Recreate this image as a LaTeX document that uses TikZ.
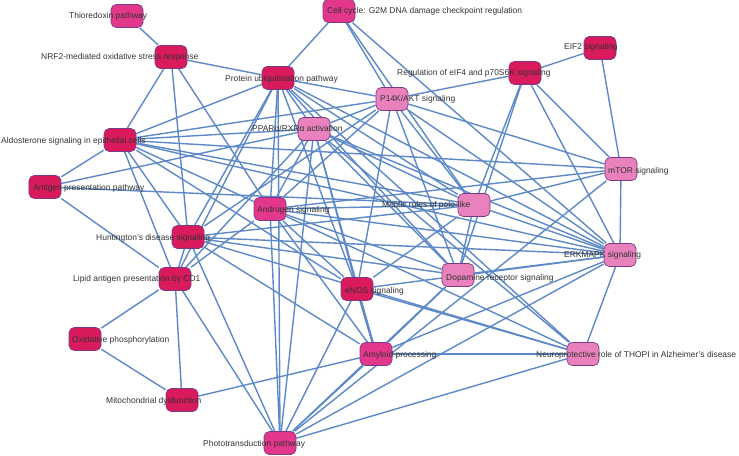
\documentclass[tikz,border=0pt]{standalone}
\usepackage{fontspec}
\setmainfont{Liberation Sans}
\usepackage{tikz}
\usetikzlibrary{shapes}
\pgfdeclarelayer{bg}
\pgfsetlayers{bg,main}
\definecolor{deeprose}{HTML}{D91A5C}
\definecolor{hotrose}{HTML}{E2378A}
\definecolor{palerose}{HTML}{E982BC}
\definecolor{boxline}{HTML}{7A3A8A}
\definecolor{linkblue}{HTML}{5D89C8}
\definecolor{txtgray}{HTML}{333333}
\tikzset{
		path box/.style={draw=boxline, line width=0.6pt, rounded corners=4.5pt, minimum width=0.96cm, minimum height=0.69cm, inner sep=0pt},
		deep/.style={path box, fill=deeprose},
		mid/.style={path box, fill=hotrose},
		pale/.style={path box, fill=palerose},
		tag/.style={anchor=west, inner sep=0pt, text=txtgray, font=\fontsize{7.2}{8}\selectfont, text height=5.2pt, text depth=1.4pt},
		link/.style={draw=linkblue, line width=1.2pt}
	}
\begin{document}
\begin{tikzpicture}[x=0.03cm, y=-0.03cm]
				\useasboundingbox (0,0) rectangle (739,456);
				% pathway boxes
				\node[mid]  (thio)  at (127,16)  {};
				\node[deep] (nrf)   at (171,57)  {};
				\node[deep] (aldo)  at (120,140) {};
				\node[mid]  (cell)  at (339,11)  {};
				\node[deep] (prot)  at (278,78)  {};
				\node[pale] (pik)   at (392,99)  {};
				\node[pale] (ppar)  at (314,129) {};
				\node[deep] (eif4)  at (525,73)  {};
				\node[deep] (eif2)  at (600,48)  {};
				\node[pale] (mtor)  at (621,169) {};
				\node[pale] (erk)   at (620,255) {};
				\node[deep] (anti)  at (45,187)  {};
				\node[deep] (hunt)  at (188,237) {};
				\node[deep] (lipid) at (175,279) {};
				\node[mid]  (andr)  at (270,209) {};
				\node[pale] (polo)  at (474,205) {};
				\node[pale] (dopa)  at (458,275) {};
				\node[deep] (enos)  at (357,289) {};
				\node[mid]  (amyl)  at (376,354) {};
				\node[mid]  (photo) at (280,443) {};
				\node[pale] (neuro) at (583,354) {};
				\node[deep] (oxph)  at (85,339)  {};
				\node[deep] (mito)  at (182,400) {};
				% links
				\begin{pgfonlayer}{bg}
				\path[link] (thio) edge (nrf);
				\path[link] (nrf) edge (aldo) edge (hunt) edge (andr) edge (prot);
				\path[link] (cell) edge (prot) edge (pik) edge (polo) edge (erk);
				\path[link] (prot) edge (pik) edge (ppar) edge (andr) edge (hunt) edge (lipid) edge (enos) edge (photo) edge (polo) edge (dopa) edge (erk) edge (neuro) edge (aldo);
				\path[link] (pik) edge (eif4) edge (mtor) edge (ppar) edge (hunt) edge (enos) edge (dopa) edge (polo) edge (erk) edge (andr) edge (aldo);
				\path[link] (ppar) edge (aldo) edge (anti) edge (andr) edge (lipid) edge (polo) edge (erk) edge (enos) edge (amyl) edge (photo) edge (neuro) edge (dopa);
				\path[link] (aldo) edge (anti) edge (hunt) edge (lipid) edge (andr) edge (polo) edge (mtor) edge (erk) edge (enos);
				\path[link] (anti) edge (polo) edge (lipid);
				\path[link] (hunt) edge (lipid) edge (amyl) edge (polo) edge (erk) edge (dopa) edge (neuro) edge (photo);
				\path[link] (lipid) edge (oxph) edge (mito) edge (andr) edge (photo);
				\path[link] (andr) edge (polo) edge (erk) edge (dopa) edge (neuro) edge (enos) edge (amyl) edge (photo) edge (mtor);
				\path[link] (polo) edge (eif4) edge (mtor) edge (erk) edge (dopa) edge (enos);
				\path[link] (eif4) edge (eif2) edge (mtor) edge (erk) edge (dopa);
				\path[link] (eif2) edge (mtor);
				\path[link] (mtor) edge (erk) edge (photo);
				\path[link] (dopa) edge (erk) edge (amyl);
				\path[link] (enos) edge (erk) edge (neuro) edge (photo);
				\path[link, line width=2pt] (enos) edge (amyl);
				\path[link] (amyl) edge (erk) edge (neuro) edge (photo) edge (mito);
				\path[link] (photo) edge (dopa) edge (erk) edge (neuro);
				\path[link] (oxph) edge (mito);
				\path[link] (erk) edge (neuro);
				\end{pgfonlayer}
				% labels
				\node[tag] (thio-t)  at (69,16)   {Thioredoxin pathway};
				\node[tag] (nrf-t)   at (41,57)   {NRF2-mediated oxidative stress response};
				\node[tag] (aldo-t)  at (1,141)   {Aldosterone signaling in epithelial cells};
				\node[tag] (cell-t)  at (327,11)  {Cell cycle: G2M DNA damage checkpoint regulation};
				\node[tag] (prot-t)  at (225,79)  {Protein ubiquitination pathway};
				\node[tag] (pik-t)   at (380,99)  {P14K/AKT signaling};
				\node[tag] (ppar-t)  at (252,129) {PPARα/RXRα activation};
				\node[tag] (eif4-t)  at (397,73)  {Regulation of eIF4 and p70S6K signaling};
				\node[tag] (eif2-t)  at (564,47)  {EIF2 signaling};
				\node[tag] (mtor-t)  at (608,171) {mTOR signaling};
				\node[tag] (erk-t)   at (564,255) {ERKMAPK signaling};
				\node[tag] (anti-t)  at (33,188)  {Antigen presentation pathway};
				\node[tag] (hunt-t)  at (96,238)  {Huntington's disease signaling};
				\node[tag] (lipid-t) at (73,279)  {Lipid antigen presentation by CD1};
				\node[tag] (andr-t)  at (257,210) {Androgen signaling};
				\node[tag] (polo-t)  at (382,205) {Mitotic roles of polo-like};
				\node[tag] (dopa-t)  at (446,278) {Dopamine receptor signaling};
				\node[tag] (enos-t)  at (345,291) {eNOS signaling};
				\node[tag] (amyl-t)  at (363,355) {Amyloid processing};
				\node[tag] (photo-t) at (203,444) {Phototransduction pathway};
				\node[tag] (neuro-t) at (536,355) {Neuroprotective role of THOPI in Alzheimer's disease};
				\node[tag] (oxph-t)  at (72,340)  {Oxidative phosphorylation};
				\node[tag] (mito-t)  at (106,401) {Mitochondrial dysfunction};
			\end{tikzpicture}
\end{document}
